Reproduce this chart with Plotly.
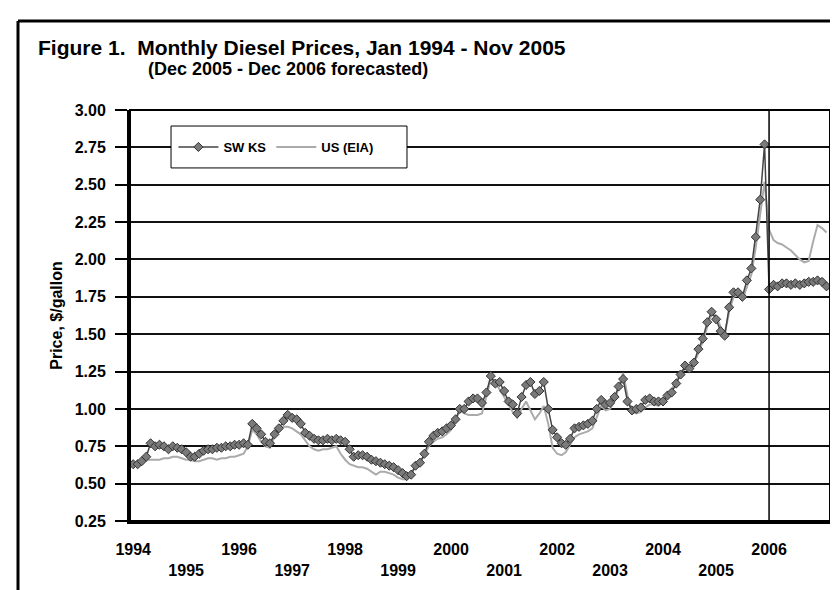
import pandas as pd
import plotly.graph_objects as go

# ---- data (monthly) ----
months = pd.date_range("1994-01-01", periods=158, freq="MS")

sw_ks = [
    0.63, 0.63, 0.65, 0.68, 0.77, 0.75, 0.76, 0.75, 0.73, 0.75, 0.74, 0.73,
    0.71, 0.68, 0.68, 0.70, 0.72, 0.73, 0.73, 0.74, 0.74, 0.75, 0.75, 0.76,
    0.76, 0.77, 0.76, 0.90, 0.87, 0.83, 0.78, 0.77, 0.83, 0.87, 0.92, 0.96,
    0.94, 0.93, 0.90, 0.84, 0.82, 0.80, 0.79, 0.79, 0.80, 0.79, 0.80, 0.79,
    0.78, 0.73, 0.68, 0.69, 0.69, 0.68, 0.66, 0.65, 0.64, 0.63, 0.62, 0.61,
    0.59, 0.57, 0.55, 0.56, 0.62, 0.64, 0.70, 0.78, 0.82, 0.84, 0.85, 0.87,
    0.89, 0.93, 1.00, 1.00, 1.05, 1.07, 1.07, 1.04, 1.11, 1.22, 1.17, 1.18,
    1.12, 1.05, 1.03, 0.97, 1.08, 1.16, 1.18, 1.10, 1.12, 1.18, 1.00, 0.86,
    0.81, 0.77, 0.76, 0.80, 0.87, 0.88, 0.89, 0.90, 0.92, 1.00, 1.06, 1.03,
    1.04, 1.08, 1.15, 1.20, 1.05, 0.99, 1.00, 1.01, 1.06, 1.07, 1.05, 1.05,
    1.05, 1.09, 1.11, 1.17, 1.23, 1.29, 1.27, 1.31, 1.40, 1.47, 1.58, 1.65,
    1.60, 1.52, 1.49, 1.68, 1.78, 1.78, 1.75, 1.86, 1.94, 2.15, 2.40, 2.77,
    1.80, 1.83, 1.82, 1.84, 1.84, 1.83, 1.84, 1.83, 1.84, 1.85, 1.85, 1.86,
    1.85, 1.82,
]

us_eia = [
    0.62, 0.62, 0.64, 0.66, 0.66, 0.66, 0.66, 0.67, 0.67, 0.68, 0.68, 0.67,
    0.66, 0.66, 0.65, 0.65, 0.66, 0.67, 0.67, 0.66, 0.67, 0.67, 0.68, 0.68,
    0.69, 0.70, 0.75, 0.86, 0.83, 0.78, 0.75, 0.74, 0.82, 0.86, 0.88, 0.88,
    0.87, 0.85, 0.83, 0.79, 0.75, 0.73, 0.72, 0.73, 0.73, 0.74, 0.75, 0.70,
    0.66, 0.63, 0.62, 0.61, 0.61, 0.60, 0.58, 0.56, 0.58, 0.58, 0.57, 0.56,
    0.54, 0.53, 0.53, 0.57, 0.62, 0.64, 0.69, 0.75, 0.78, 0.80, 0.81, 0.83,
    0.86, 0.92, 0.99, 0.97, 0.96, 0.96, 0.96, 0.97, 1.08, 1.20, 1.17, 1.13,
    1.08, 1.03, 0.98, 0.94, 1.00, 1.05, 0.99, 0.93, 0.97, 1.02, 0.90, 0.74,
    0.70, 0.69, 0.71, 0.76, 0.81, 0.83, 0.84, 0.85, 0.87, 0.95, 1.02, 0.99,
    1.00, 1.05, 1.14, 1.24, 1.09, 0.98, 0.97, 0.98, 1.01, 1.03, 1.03, 1.02,
    1.05, 1.09, 1.13, 1.19, 1.24, 1.27, 1.26, 1.30, 1.38, 1.45, 1.55, 1.64,
    1.62, 1.55, 1.50, 1.65, 1.75, 1.76, 1.73, 1.82, 1.90, 2.08, 2.30, 2.52,
    2.20, 2.13, 2.11, 2.10, 2.08, 2.06, 2.03, 2.00, 1.98, 1.99, 2.12, 2.23,
    2.21, 2.18,
]

year_ticks = [f"{y}-01-01" for y in range(1994, 2007)]
year_labels = [str(y) if y % 2 == 0 else "<br>" + str(y) for y in range(1994, 2007)]
y_ticks = [0.25, 0.50, 0.75, 1.00, 1.25, 1.50, 1.75, 2.00, 2.25, 2.50, 2.75, 3.00]
forecast_start = "2006-01-01"

FONT = "Liberation Sans, Arial, sans-serif"

fig = go.Figure()
fig.add_trace(go.Scatter(
    x=months, y=us_eia, name="US (EIA)", mode="lines",
    line=dict(color="#ababab", width=2),
))
fig.add_trace(go.Scatter(
    x=months, y=sw_ks, name="SW KS", mode="lines+markers",
    line=dict(color="#444444", width=1.5),
    marker=dict(symbol="diamond", size=7, color="#7a7a7a",
                line=dict(color="#333333", width=1)),
))

fig.update_layout(
    width=838, height=590,
    margin=dict(l=122, r=16, t=102, b=77),
    paper_bgcolor="white", plot_bgcolor="white",
    font=dict(family=FONT, color="black"),
    showlegend=True,
    legend=dict(
        orientation="h", x=0.062, y=0.91, xanchor="left", yanchor="middle",
        borderwidth=0, bgcolor="rgba(0,0,0,0)",
        font=dict(size=13, family=FONT, weight="bold"),
        traceorder="reversed", itemwidth=40,
    ),
    xaxis=dict(
        type="date", range=["1993-12-10", "2007-02-25"],
        tickvals=year_ticks, ticktext=year_labels,
        tickfont=dict(size=16, family=FONT, weight="bold"),
        showgrid=False, ticks="", ticklabelstandoff=12,
        showline=True, linecolor="black", linewidth=3,
        zeroline=False,
    ),
    yaxis=dict(
        range=[0.25, 3.00], tickvals=y_ticks,
        tickformat=".2f",
        tickfont=dict(size=16, family=FONT, weight="bold"),
        ticks="outside", ticklen=12, tickwidth=2, tickcolor="black",
        ticklabelstandoff=6,
        showgrid=True, gridcolor="#111111", gridwidth=1.5,
        showline=True, linecolor="black", linewidth=3,
        zeroline=False,
        title=dict(text="Price, $/gallon", standoff=9,
                   font=dict(size=16, family=FONT, weight="bold")),
    ),
)

# plot-area frame and forecast divider
fig.add_shape(type="rect", xref="paper", yref="paper", x0=0, x1=1, y0=0, y1=1,
              line=dict(color="black", width=2))
fig.add_vline(x=forecast_start, line=dict(color="black", width=1.5))

# legend frame
fig.add_shape(type="rect", xref="paper", yref="paper",
              x0=0.0586, x1=0.3957, y0=0.859, y1=0.961,
              line=dict(color="black", width=1), fillcolor="white", layer="above")

# outer figure frame (top and left edges visible)
fig.add_shape(type="line", xref="paper", yref="paper", x0=-0.16, x1=1.03,
              y0=1.2165, y1=1.2165, line=dict(color="black", width=3))
fig.add_shape(type="line", xref="paper", yref="paper", x0=-0.16, x1=-0.16,
              y0=1.2165, y1=-0.2, line=dict(color="black", width=3))

fig.add_annotation(
    text="Figure 1.&nbsp; Monthly Diesel Prices, Jan 1994 - Nov 2005",
    xref="paper", yref="paper", x=-0.1343, y=1.151,
    xanchor="left", yanchor="middle", showarrow=False,
    font=dict(size=21, family=FONT, weight="bold"),
)
fig.add_annotation(
    text="(Dec 2005 - Dec 2006 forecasted)",
    xref="paper", yref="paper", x=0.0228, y=1.0998,
    xanchor="left", yanchor="middle", showarrow=False,
    font=dict(size=18, family=FONT, weight="bold"),
)

fig.write_html("out.html")
